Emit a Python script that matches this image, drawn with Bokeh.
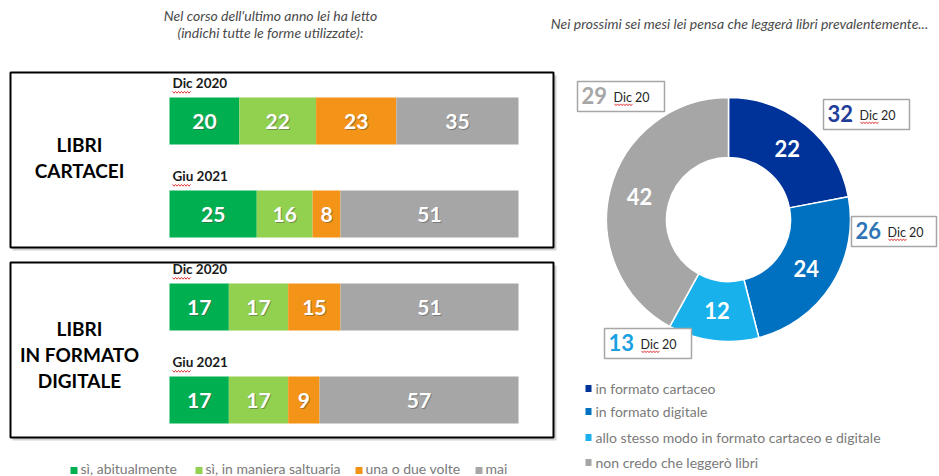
import numpy as np
from bokeh.plotting import figure
from bokeh.models import Range1d
from bokeh.core.properties import value
from bokeh.embed import file_html
from bokeh.resources import INLINE

# ---------------- data ----------------
group_lines = [["LIBRI", "CARTACEI"], ["LIBRI", "IN FORMATO", "DIGITALE"]]
waves = ["Dic 2020", "Giu 2021", "Dic 2020", "Giu 2021"]
series_names = ["sì, abitualmente", "sì, in maniera saltuaria", "una o due volte", "mai"]
abitualmente = [20, 25, 17, 17]
saltuaria = [22, 16, 17, 17]
una_due = [23, 8, 15, 9]
mai = [35, 51, 51, 57]

donut_names = ["in formato cartaceo", "in formato digitale",
               "allo stesso modo in formato cartaceo e digitale", "non credo che leggerò libri"]
giu21 = [22, 24, 12, 42]
dic20 = [32, 26, 13, 29]
dic20_tag = "Dic 20"

title_left = ["Nel corso dell'ultimo anno lei ha letto", "(indichi tutte le forme utilizzate):"]
title_right = "Nei prossimi sei mesi lei pensa che leggerà libri prevalentemente..."

# ---------------- styles ----------------
bar_colors = ["#00B050", "#92D050", "#F39317", "#A6A6A6"]
donut_colors = ["#003399", "#0070C0", "#19B1EC", "#A6A6A6"]
callout_colors = ["#1F3D99", "#2E75B6", "#1BA1E2", "#A6A6A6"]
FONT = value("Lato")

W, H = 939, 476
def Y(py):  # page pixel -> data y
    return H - py

p = figure(width=W, height=H, x_range=Range1d(0, W), y_range=Range1d(0, H),
           output_backend="svg", toolbar_location=None, min_border=0,
           x_axis_type=None, y_axis_type=None)
p.grid.visible = False
p.outline_line_color = None
p.background_fill_color = "white"

def squiggle(x0, py, length):
    n = int(length / 1.5) + 1
    xs = [x0 + i * 1.5 for i in range(n)]
    ys = [Y(py + (1.2 if i % 2 else -0.6)) for i in range(n)]
    p.line(xs, ys, line_color="#E23B3B", line_width=1)

# scales for the bars: percent along x, row index along y
BX0, BX1 = 169, 518
ppu = (BX1 - BX0) / 100.0
ROW0, ROWSTEP = 120.5, 93.0
p.extra_x_ranges = {"pct": Range1d(-BX0 / ppu, (W - BX0) / ppu)}
p.extra_y_ranges = {"row": Range1d((H - ROW0) / ROWSTEP, (0 - ROW0) / ROWSTEP)}

# ---------------- titles ----------------
p.text(x=[270, 270], y=[Y(15), Y(32)], text=title_left, text_font=FONT,
       text_font_style="italic", text_font_size="14px", text_color="#4a4a4a",
       text_align="center", text_baseline="middle")
p.text(x=[739], y=[Y(23)], text=[title_right], text_font=FONT,
       text_font_style="italic", text_font_size="14px", text_color="#4a4a4a",
       text_align="center", text_baseline="middle")

# ---------------- group boxes ----------------
boxes = [(72, 247), (262, 437)]
for (t, b) in boxes:
    p.quad(left=[12], right=[556], top=[Y(t + 3)], bottom=[Y(b + 3)],
           fill_color="#BFBFBF", fill_alpha=0.7, line_color=None)
    p.quad(left=[10], right=[553], top=[Y(t)], bottom=[Y(b)],
           fill_color="white", line_color="black", line_width=2)

label_centers = [[144, 170], [328, 354, 380]]
for lines, ys in zip(group_lines, label_centers):
    p.text(x=[79] * len(lines), y=[Y(v) for v in ys], text=lines, text_font=FONT,
           text_font_style="bold", text_font_size="19px", text_color="black",
           text_align="center", text_baseline="middle")

# ---------------- stacked bars ----------------
rows = list(range(len(waves)))
series = [abitualmente, saltuaria, una_due, mai]
left = np.zeros(len(rows))
for vals, col in zip(series, bar_colors):
    v = np.array(vals, dtype=float)
    right = left + v
    p.hbar(y=rows, left=left, right=right, height=47 / ROWSTEP, fill_color=col,
           line_color=None, x_range_name="pct", y_range_name="row")
    mid = (left + right) / 2
    txt = [str(int(a)) for a in v]
    p.text(x=mid, y=rows, text=txt, x_offset=1, y_offset=1, text_font=FONT,
           text_font_style="bold", text_font_size="21px", text_color="#404040",
           text_alpha=0.45, text_align="center", text_baseline="middle",
           x_range_name="pct", y_range_name="row")
    p.text(x=mid, y=rows, text=txt, text_font=FONT, text_font_style="bold",
           text_font_size="21px", text_color="white", text_align="center",
           text_baseline="middle", x_range_name="pct", y_range_name="row")
    left = right

p.text(x=[0] * len(rows), y=rows, text=waves, x_offset=3, y_offset=-38, text_font=FONT,
       text_font_style="bold", text_font_size="13.5px", text_color="#1a1a1a",
       text_align="left", text_baseline="middle", x_range_name="pct", y_range_name="row")
for r in rows:
    squiggle(BX0 + 3, ROW0 + ROWSTEP * r - 29, 19)

# bottom legend
leg_x = [70, 195, 355, 475]
p.rect(x=[a + 3.5 for a in leg_x], y=[Y(470)] * 4, width=7, height=7,
       fill_color=bar_colors, line_color=None)
p.text(x=[a + 10 for a in leg_x], y=[Y(468)] * 4, text=series_names, text_font=FONT,
       text_font_size="14px", text_color="#7a7a7a", text_align="left",
       text_baseline="middle")

# ---------------- donut ----------------
CX, CY, RI, RO = 728, Y(219), 62, 122
g = np.array(giu21, dtype=float)
cum = np.concatenate([[0], np.cumsum(g)])
start = np.pi / 2 - 2 * np.pi * cum[:-1] / cum[-1]
end = np.pi / 2 - 2 * np.pi * cum[1:] / cum[-1]
p.annular_wedge(x=CX, y=CY, inner_radius=RI, outer_radius=RO, start_angle=start,
                end_angle=end, direction="clock", fill_color=donut_colors,
                line_color="white", line_width=1.5)
mida = (start + end) / 2
rm = (RI + RO) / 2
p.text(x=CX + rm * np.cos(mida), y=CY + rm * np.sin(mida), text=[str(int(a)) for a in g],
       text_font=FONT, text_font_style="bold", text_font_size="22px", text_color="white",
       text_align="center", text_baseline="middle")

# callouts with Dic 20 values
cboxes = [(823, 909, 99, 129), (851, 936, 216, 246), (604, 691, 328, 358), (577, 664, 81, 111)]
for (l, r, t, b), v, c in zip(cboxes, dic20, callout_colors):
    p.quad(left=[l], right=[r], top=[Y(t)], bottom=[Y(b)], fill_color="white",
           line_color="#A6A6A6", line_width=1.5)
    p.text(x=[l + 4], y=[Y((t + b) / 2 - 1)], text=[str(v)], text_font=FONT,
           text_font_style="bold", text_font_size="22px", text_color=c,
           text_align="left", text_baseline="middle")
    p.text(x=[l + 36], y=[Y((t + b) / 2 + 1)], text=[dic20_tag], text_font=FONT,
           text_font_size="12.5px", text_color="#262626", text_align="left",
           text_baseline="middle")
    squiggle(l + 37, (t + b) / 2 + 8, 18)

# right legend
ry = [388, 411, 437, 462]
p.rect(x=[588] * 4, y=[Y(v) for v in ry], width=6, height=7, fill_color=donut_colors,
       line_color=None)
p.text(x=[595] * 4, y=[Y(v) for v in ry], text=donut_names, text_font=FONT,
       text_font_size="14px", text_color="#7a7a7a", text_align="left", text_baseline="middle")

open("out.html", "w").write(file_html(p, INLINE))
